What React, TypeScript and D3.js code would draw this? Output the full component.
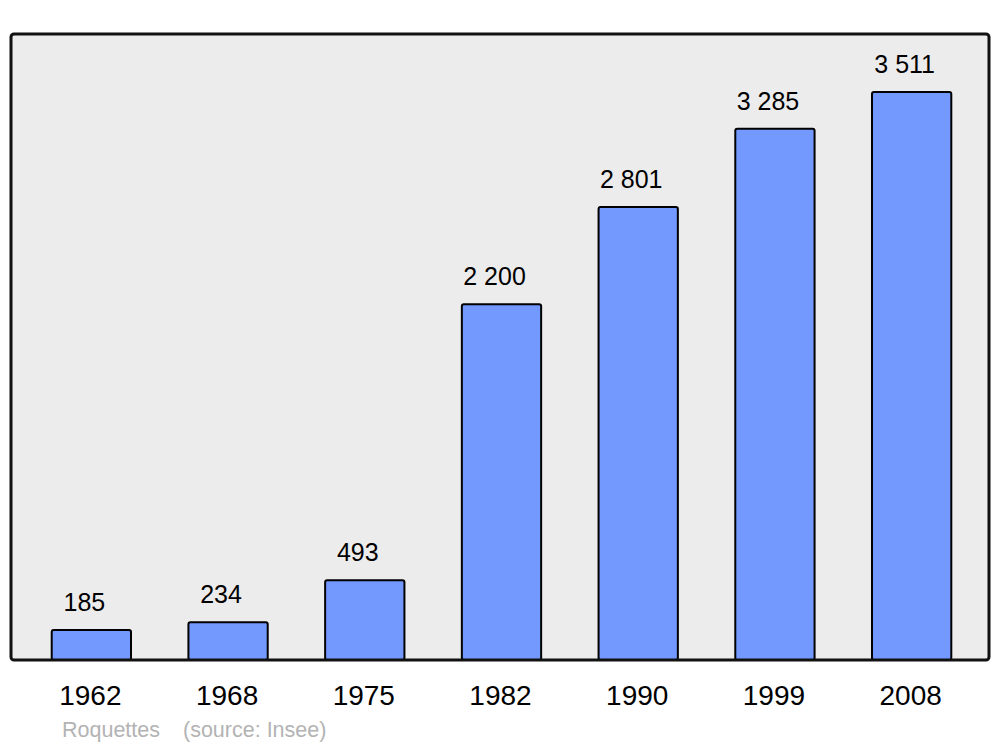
import React from "react";
import * as d3 from "d3";

const years = ["1962", "1968", "1975", "1982", "1990", "1999", "2008"];
const population = [185, 234, 493, 2200, 2801, 3285, 3511];
const townName = "Roquettes";
const sourceText = "(source: Insee)";

const W = 1000;
const H = 747;
const frame = { x: 11, y: 34, w: 978, h: 626 };

export default function App() {
  const x = d3.scaleBand<string>().domain(years).range([23, 980]).paddingInner(0.42).paddingOuter(0.21);
  const y = d3.scaleLinear().domain([0, 3870]).range([660, 34]);
  const fmt = (v: number) => d3.format(",")(v).replace(/,/g, " ");
  const font = "'Liberation Sans', Arial, sans-serif";

  return (
    <svg width={W} height={H} style={{ position: "absolute", left: 0, top: 0, background: "#fff" }} fontFamily={font}>
      <rect x={frame.x} y={frame.y} width={frame.w} height={frame.h} rx={3} fill="#ececec" stroke="none" />
      {years.map((yr, i) => {
        const v = population[i];
        const bx = x(yr)!;
        const by = y(v);
        return (
          <g key={yr}>
            <rect x={bx} y={by} width={x.bandwidth()} height={y(0) - by} rx={2} fill="#7399ff" stroke="#000" strokeWidth={2} />
            <text x={bx + x.bandwidth() / 2 - 7} y={by - 19} textAnchor="middle" fontSize={25} fill="#000">{fmt(v)}</text>
            <text x={bx + x.bandwidth() / 2 - 1} y={705} textAnchor="middle" fontSize={28} fill="#000">{yr}</text>
          </g>
        );
      })}
      <rect x={frame.x} y={frame.y} width={frame.w} height={frame.h} rx={3} fill="none" stroke="#111" strokeWidth={3} />
      <text x={62} y={737} fontSize={21.5} fill="#b3b3b3">{townName}</text>
      <text x={183} y={737} fontSize={21.5} fill="#b3b3b3">{sourceText}</text>
    </svg>
  );
}
